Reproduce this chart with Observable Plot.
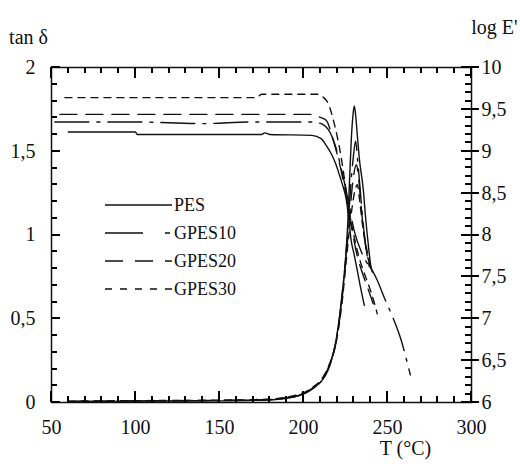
<!DOCTYPE html>
<html><head><meta charset="utf-8">
<script src="https://cdn.jsdelivr.net/npm/d3@7"></script>
<script src="https://cdn.jsdelivr.net/npm/@observablehq/plot@0.6"></script>
<style>
body{margin:0;background:#fff}
#wrap{position:relative;width:520px;height:466px}
#wrap > svg{position:absolute;left:0;top:0}
</style>
</head><body><div id="wrap"></div>
<script>
// ---- data ----
const seriesNames = ["PES", "GPES10", "GPES20", "GPES30"];
const seriesDash = ["none", "34,8,3,8", "17,9", "7,6"];

// tan δ curves (left axis)
const tanT_PES    = [60, 100, 150, 180, 190, 197, 202, 206, 210, 213, 216, 219, 221, 223, 225, 226.5, 227.5, 228.5, 229.5, 230.2, 231, 232, 233.2, 235.6, 237, 238.5, 240, 241];
const tan_PES     = [0.005, 0.008, 0.01, 0.015, 0.025, 0.04, 0.06, 0.085, 0.12, 0.16, 0.23, 0.35, 0.48, 0.65, 0.85, 1.1, 1.35, 1.58, 1.72, 1.77, 1.72, 1.6, 1.46, 1.27, 1.1, 0.95, 0.82, 0.78];
const tanT_GPES10 = [60, 100, 150, 180, 190, 197, 202, 206, 210, 213, 216, 219, 221, 223, 225, 226.5, 228, 229.5, 231, 232.2, 233.5, 235, 236.5, 238, 240];
const tan_GPES10  = [0.006, 0.009, 0.012, 0.017, 0.027, 0.042, 0.062, 0.088, 0.12, 0.165, 0.235, 0.35, 0.47, 0.64, 0.85, 1.05, 1.28, 1.45, 1.56, 1.45, 1.3, 1.12, 0.98, 0.87, 0.78];
const tanT_GPES20 = [60, 100, 150, 180, 190, 197, 202, 206, 210, 213, 216, 219, 221, 223, 225, 226.5, 228, 229.5, 231.5, 233, 234.5, 236, 238, 240];
const tan_GPES20  = [0.007, 0.01, 0.013, 0.018, 0.03, 0.045, 0.065, 0.09, 0.125, 0.17, 0.24, 0.34, 0.46, 0.62, 0.83, 1.0, 1.18, 1.33, 1.42, 1.32, 1.15, 1.0, 0.88, 0.8];
const tanT_GPES30 = [60, 100, 150, 180, 190, 197, 202, 206, 210, 213, 216, 219, 221, 223, 225, 227, 229, 230.5, 232, 233.5, 235, 237, 239, 241];
const tan_GPES30  = [0.008, 0.011, 0.014, 0.02, 0.032, 0.048, 0.068, 0.095, 0.13, 0.175, 0.245, 0.34, 0.45, 0.6, 0.8, 1.0, 1.17, 1.26, 1.3, 1.2, 1.07, 0.95, 0.85, 0.78];

// log E' curves (right axis)
const eT_PES    = [60, 100, 101, 175, 177, 180, 205, 210.5, 213.5, 216.5, 219, 221.2, 223.5, 225.4, 227, 228.4, 230, 231.4, 233.5, 236.2];
const e_PES     = [9.23, 9.23, 9.2, 9.2, 9.22, 9.2, 9.19, 9.15, 9.07, 8.97, 8.86, 8.73, 8.58, 8.43, 8.18, 7.93, 7.78, 7.64, 7.42, 7.16];
const eT_GPES10 = [52, 100, 140, 170, 205, 208.7, 211.5, 214.7, 218.9, 223, 226.6, 230.2, 234.4, 237.4, 240.3, 243.9, 248.1, 253.5, 258.2, 261.2, 263.6];
const e_GPES10  = [9.35, 9.35, 9.33, 9.35, 9.35, 9.34, 9.32, 9.26, 9.07, 8.75, 8.41, 8.05, 7.8, 7.68, 7.6, 7.46, 7.25, 7.0, 6.74, 6.52, 6.33];
const eT_GPES20 = [55, 205, 209.3, 213.5, 217.7, 222.4, 226, 229, 232, 235, 238, 241.5];
const e_GPES20  = [9.44, 9.44, 9.41, 9.37, 9.13, 8.77, 8.4, 8.05, 7.75, 7.55, 7.38, 7.18];
const eT_GPES30 = [58, 172, 175, 208.7, 211.5, 214.7, 218.3, 222.4, 225.4, 228, 231, 234, 237, 240.5, 243.9];
const e_GPES30  = [9.64, 9.64, 9.68, 9.68, 9.65, 9.57, 9.33, 8.93, 8.53, 8.2, 7.9, 7.67, 7.5, 7.3, 7.06];

const xTicks = [50, 100, 150, 200, 250, 300];
const tanTicks = [0, 0.5, 1, 1.5, 2];
const eTicks = [6, 6.5, 7, 7.5, 8, 8.5, 9, 9.5, 10];

// ---- build ----
const tanSets = [[tanT_PES, tan_PES], [tanT_GPES10, tan_GPES10], [tanT_GPES20, tan_GPES20], [tanT_GPES30, tan_GPES30]];
const eSets = [[eT_PES, e_PES], [eT_GPES10, e_GPES10], [eT_GPES20, e_GPES20], [eT_GPES30, e_GPES30]];
const rows = ([T, v]) => T.map((t, i) => ({T: t, v: v[i]}));
const eToY = e => (e - 6) / 2;   // map log E' (6..10) onto tan δ scale (0..2)
const fmt = d => String(+(+d).toFixed(2)).replace(".", ",");

const W = 520, H = 466, mL = 51, mR = 49, mT = 67, mB = 64;
const font = "Liberation Serif, Times New Roman, serif";

const xMinor = d3.range(50, 301, 10).filter(d => d % 50 !== 0);
const tanMinor = d3.range(0, 21).map(d => d / 10).filter(d => !tanTicks.includes(d));
const eMinor = d3.range(60, 101).map(d => d / 10).filter(d => !eTicks.includes(d));

const INK = "#111";
const marks = [];
seriesNames.forEach((s, i) => {
  const dash = seriesDash[i];
  marks.push(Plot.line(rows(tanSets[i]), {x: "T", y: "v", stroke: INK, strokeWidth: 1.4, strokeDasharray: dash, curve: "monotone-x"}));
  marks.push(Plot.line(rows(eSets[i]), {x: "T", y: d => eToY(d.v), stroke: INK, strokeWidth: 1.4, strokeDasharray: dash, curve: "monotone-x"}));
});
marks.push(
  Plot.frame({stroke: INK, strokeWidth: 1.5}),
  Plot.axisX({ticks: xTicks, tickSize: 0, tickPadding: 17, label: null, tickFormat: d => String(d), fontSize: 20}),
  Plot.axisY({anchor: "left", ticks: tanTicks, tickSize: 0, tickPadding: 16, label: null, tickFormat: fmt, fontSize: 20}),
  Plot.axisY({anchor: "right", ticks: eTicks.map(eToY), tickSize: 0, tickPadding: 10, label: null, tickFormat: d => fmt(6 + 2 * d), fontSize: 20}),
  Plot.text(["tan δ"], {text: d => d, frameAnchor: "top-left", dx: -23, dy: -38, textAnchor: "middle", fontSize: 20}),
  Plot.text(["log E'"], {text: d => d, frameAnchor: "top-right", dx: 23, dy: -48, textAnchor: "middle", fontSize: 20}),
  Plot.text(["T (°C)"], {text: d => d, frameAnchor: "bottom-right", dx: -66, dy: 52, textAnchor: "middle", fontSize: 20})
);

const chart = Plot.plot({
  width: W, height: H,
  marginLeft: mL, marginRight: mR, marginTop: mT, marginBottom: mB,
  x: {domain: [50, 300]},
  y: {domain: [0, 2]},
  style: {fontFamily: font, background: "#fff", color: INK},
  marks
});
const wrap = document.getElementById("wrap");
wrap.appendChild(chart);

// overlay: axis ticks as filled bars (placed with Plot's own scales) and legend
const sx = chart.scale("x"), sy = chart.scale("y");
const X = v => sx.apply(v), Y = v => sy.apply(v);
const x0 = X(50), x1 = X(300), y0 = Y(0), y1 = Y(2);
const ov = d3.select(wrap).append("svg").attr("width", W).attr("height", H)
  .style("pointer-events", "none").style("font-family", font);
const tg = ov.append("g").attr("fill", "#000");
const TW = 2;
const vbar = (x, ya, yb) => tg.append("rect").attr("x", Math.round(x) - TW / 2).attr("y", Math.min(ya, yb)).attr("width", TW).attr("height", Math.abs(yb - ya));
const hbar = (y, xa, xb) => tg.append("rect").attr("y", Math.round(y) - TW / 2).attr("x", Math.min(xa, xb)).attr("height", TW).attr("width", Math.abs(xb - xa));
xMinor.forEach(v => { vbar(X(v), y0, y0 - 6); vbar(X(v), y1, y1 + 6); });
xTicks.forEach(v => { vbar(X(v), y0, y0 - 11); vbar(X(v), y1, y1 + 11); });
tanMinor.forEach(v => hbar(Y(v), x0, x0 + 6));
tanTicks.forEach(v => hbar(Y(v), x0, x0 + 9));
eMinor.forEach(v => hbar(Y(eToY(v)), x1 - 6, x1));
eTicks.forEach(v => hbar(Y(eToY(v)), x1 - 10, x1 + 8));

const rowsY = [205, 233, 261, 289];
const legDash = [null, "38,22,5,5", "18,12", "7,8"];
seriesNames.forEach((s, i) => {
  const g = ov.append("g").attr("transform", `translate(0,${rowsY[i]})`);
  g.append("line").attr("x1", 105).attr("x2", 172).attr("y1", 0).attr("y2", 0)
    .attr("stroke", INK).attr("stroke-width", 1.4)
    .attr("stroke-dasharray", legDash[i]);
  g.append("text").attr("x", 174).attr("y", 0).attr("dy", "0.35em")
    .attr("font-size", 18).attr("fill", INK).text(s);
});
</script>
</body></html>
